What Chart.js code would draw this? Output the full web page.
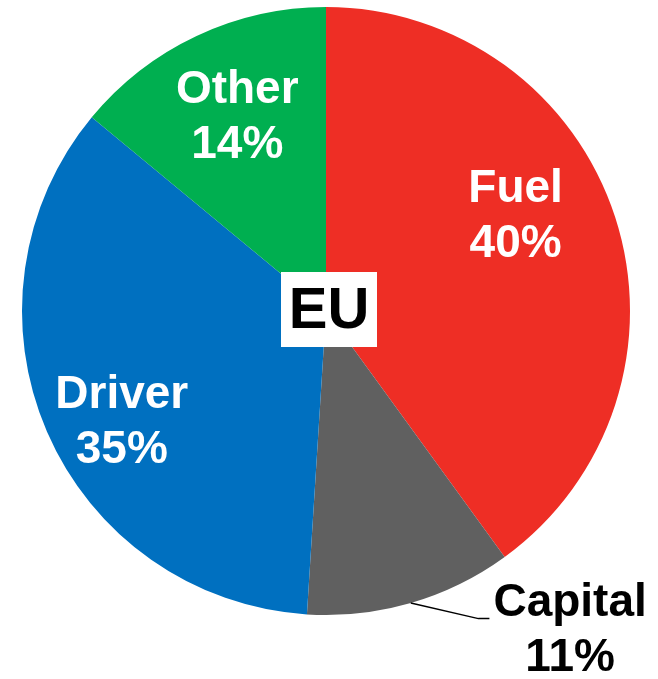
<!DOCTYPE html>
<html>
<head>
<meta charset="utf-8">
<script src="https://cdn.jsdelivr.net/npm/chart.js@4"></script>
<style>
  html, body { margin: 0; padding: 0; background: #ffffff; }
  canvas { display: block; }
</style>
</head>
<body>
<canvas id="c" width="658" height="679"></canvas>
<script>
// ---- data ----
const categories = ['Fuel', 'Capital', 'Driver', 'Other'];
const shares = [40, 11, 35, 14];
const sliceColors = ['#EE2E25', '#606060', '#0070C0', '#00AF50'];
const centerLabel = 'EU';

// ---- label layout (style only) ----
const labelLayout = [
  { angleOffsetDeg: -9,    radiusFactor: 0.70,  color: '#ffffff', leader: false },
  { angleOffsetDeg: -21.3, radiusFactor: 1.319, color: '#000000', leader: true  },
  { angleOffsetDeg: -4.9,  radiusFactor: 0.763, color: '#ffffff', leader: false },
  { angleOffsetDeg: 0.7,   radiusFactor: 0.704, color: '#ffffff', leader: false }
];
const FONT = '"Liberation Sans", Arial, sans-serif';

const labelPlugin = {
  id: 'sliceLabels',
  afterDatasetsDraw(chart) {
    const ctx = chart.ctx;
    const meta = chart.getDatasetMeta(0);
    ctx.save();
    ctx.font = 'bold 46px ' + FONT;
    ctx.textAlign = 'center';
    ctx.textBaseline = 'middle';
    const lineGap = 27.5;
    const textNudge = 2;
    let cx = 0, cy = 0;
    meta.data.forEach((arc, i) => {
      const p = arc.getProps(['x', 'y', 'startAngle', 'endAngle', 'outerRadius'], true);
      cx = p.x; cy = p.y;
      const mid = (p.startAngle + p.endAngle) / 2;
      const L = labelLayout[i];
      const a = mid + L.angleOffsetDeg * Math.PI / 180;
      const lx = p.x + Math.cos(a) * p.outerRadius * L.radiusFactor;
      const ly = p.y + Math.sin(a) * p.outerRadius * L.radiusFactor;
      const line1 = categories[i];
      const line2 = shares[i] + '%';
      if (L.leader) {
        const w = ctx.measureText(line1).width;
        const sx = p.x + Math.cos(mid) * p.outerRadius;
        const sy = p.y + Math.sin(mid) * p.outerRadius;
        const ex = lx - w / 2 - 4;
        const ey = ly - lineGap + 17;
        ctx.strokeStyle = '#000000';
        ctx.lineWidth = 1.5;
        ctx.beginPath();
        ctx.moveTo(sx, sy);
        ctx.lineTo(ex - 11, ey);
        ctx.lineTo(ex, ey);
        ctx.stroke();
      }
      ctx.fillStyle = L.color;
      ctx.fillText(line1, lx, ly - lineGap + textNudge);
      ctx.fillText(line2, lx, ly + lineGap + textNudge);
    });
    // center box
    const bw = 96, bh = 75;
    const bx = cx + 3, by = cy - 1.5;
    ctx.fillStyle = '#ffffff';
    ctx.fillRect(bx - bw / 2, by - bh / 2, bw, bh);
    ctx.fillStyle = '#000000';
    ctx.font = 'bold 58px ' + FONT;
    ctx.fillText(centerLabel, bx, by + 2);
    ctx.restore();
  }
};

new Chart(document.getElementById('c'), {
  type: 'pie',
  data: {
    labels: categories,
    datasets: [{
      data: shares,
      backgroundColor: sliceColors,
      borderWidth: 0
    }]
  },
  options: {
    responsive: false,
    animation: false,
    devicePixelRatio: 1,
    layout: { padding: { left: 22, right: 28, top: 7, bottom: 64 } },
    plugins: {
      legend: { display: false },
      tooltip: { enabled: false }
    }
  },
  plugins: [labelPlugin]
});
</script>
</body>
</html>
